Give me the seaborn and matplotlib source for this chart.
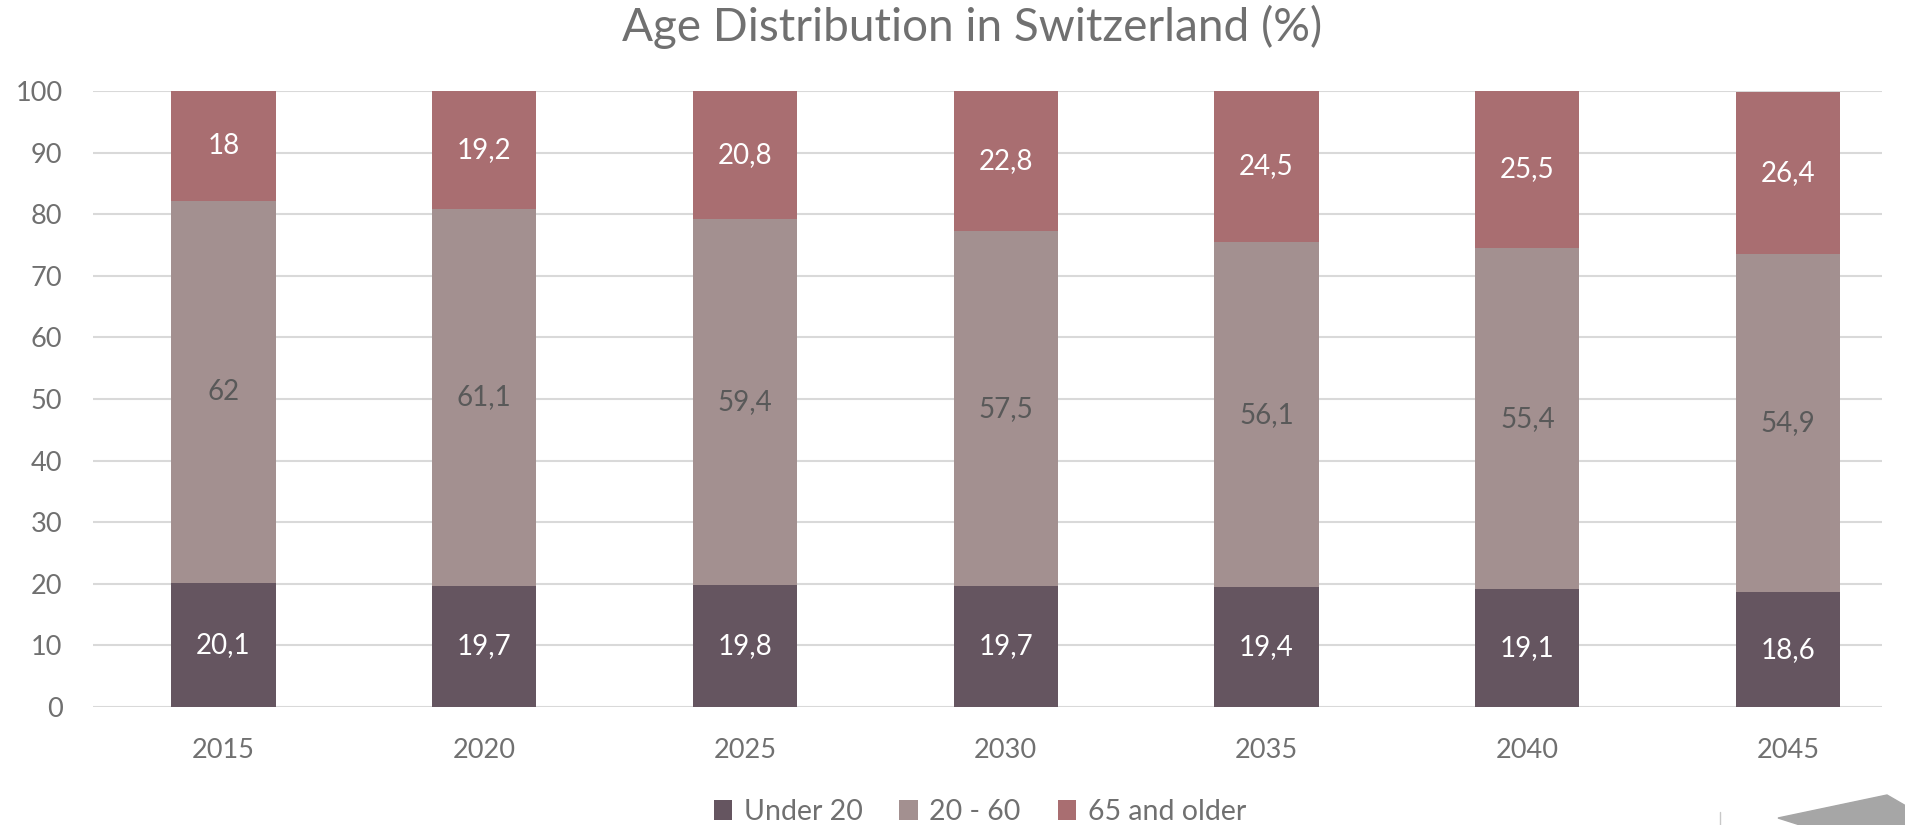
import matplotlib
matplotlib.use("Agg")
import matplotlib.pyplot as plt
import seaborn as sns
import numpy as np
from matplotlib.patches import Polygon
from matplotlib.lines import Line2D

years = ["2015", "2020", "2025", "2030", "2035", "2040", "2045"]
under20 = [20.1, 19.7, 19.8, 19.7, 19.4, 19.1, 18.6]
mid = [62, 61.1, 59.4, 57.5, 56.1, 55.4, 54.9]
older = [18, 19.2, 20.8, 22.8, 24.5, 25.5, 26.4]
series_names = ["Under 20", "20 - 60", "65 and older"]
colors = ["#655560", "#A39090", "#A96E71"]
label_colors = ["white", "#595959", "white"]

sns.set_theme(style="white")
plt.rcParams['font.family'] = ['Lato', 'DejaVu Sans']

fig = plt.figure(figsize=(19.06, 8.25), dpi=100)
ax = fig.add_axes([93/1906, 1-707/825, (1882-93)/1906, (707-91)/825])

text_gray = "#707070"
bottom = np.zeros(len(years))
for name, vals, c, lc in zip(series_names, [under20, mid, older], colors, label_colors):
    sns.barplot(x=years, y=vals, color=c, width=0.4, bottom=bottom, ax=ax,
                label=name, errorbar=None, saturation=1, zorder=3, linewidth=0)
    cont = ax.containers[-1]
    ax.bar_label(cont, labels=[f"{v:g}".replace(".", ",") for v in vals],
                 label_type="center", color=lc, fontsize=20)
    bottom = bottom + np.array(vals)

ax.set_ylim(0, 100)
ax.set_xlim(-0.5, 6.36)
ax.set_yticks(np.arange(0, 101, 10))
ax.yaxis.grid(True, color="#D9D9D9", linewidth=1.5, zorder=0)
ax.set_axisbelow(True)
for s in ax.spines.values():
    s.set_visible(False)
ax.tick_params(axis="both", length=0, labelsize=19.5, colors=text_gray)
ax.tick_params(axis="y", pad=22)
ax.tick_params(axis="x", pad=22)
ax.set_xlabel("")
ax.set_ylabel("")

fig.suptitle("Age Distribution in Switzerland (%)", x=800/1568, y=1-27/825,
             va="center", ha="center", fontsize=33, color=text_gray)

leg = ax.legend(loc="center", bbox_to_anchor=(806/1568, 1-812/825),
                bbox_transform=fig.transFigure, ncol=3, frameon=False,
                fontsize=20.5, handlelength=0.65, handleheight=0.65,
                columnspacing=1.3, handletextpad=0.4)
for t in leg.get_texts():
    t.set_color(text_gray)

# decorative shape at bottom right
poly = Polygon([(1778/1906, 1-818/825), (1887/1906, 1-795/825), (1906/1906, 1-806/825),
                (1906/1906, 0), (1800/1906, 0)], closed=True,
               transform=fig.transFigure, color="#A6A6A6", zorder=0)
fig.patches.append(poly)
fig.lines.append(Line2D([1720/1906, 1720/1906], [0, 1-812/825], transform=fig.transFigure,
                        color="#C8C8C8", linewidth=1))

fig.savefig("out.png", dpi=100)
